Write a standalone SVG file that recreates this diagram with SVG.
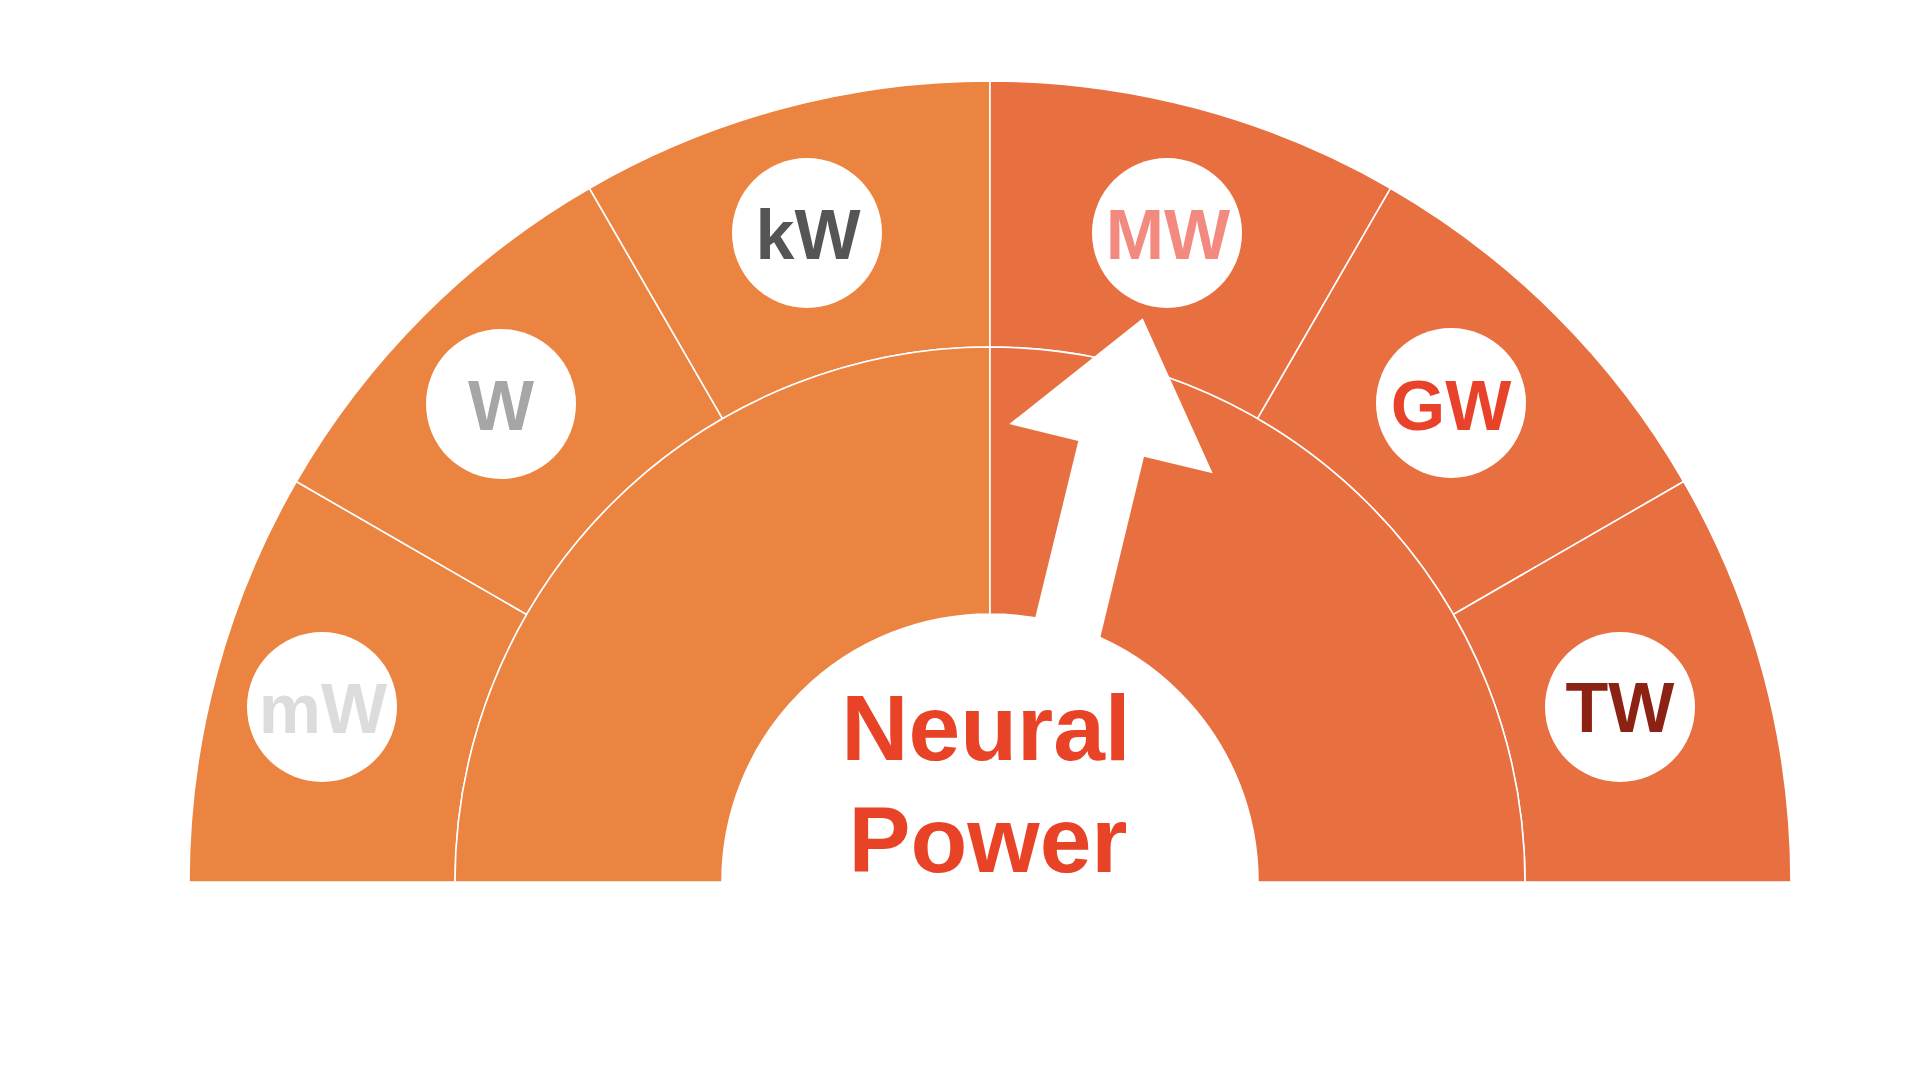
<svg xmlns="http://www.w3.org/2000/svg" width="1919" height="1080" viewBox="0 0 1919 1080">
<style>
.seg{stroke:#FFFFFF;stroke-width:1.6;stroke-linejoin:round}
.lo{fill:#EC8441}
.ro{fill:#E86F40}
.badge{fill:#FFFFFF}
.unit{font-family:"Liberation Sans",Arial,sans-serif;font-weight:bold;font-size:70px;text-anchor:middle}
.title{font-family:"Liberation Sans",Arial,sans-serif;font-weight:bold;font-size:93px;text-anchor:middle;fill:#E84327}
</style>
<rect width="1919" height="1080" fill="#FFFFFF"/>
<g id="gauge">
<path class="seg lo" d="M189 882 A801 801 0 0 1 296.3 481.5 L526.7 614.5 A535 535 0 0 0 455 882 Z"/>
<path class="seg lo" d="M296.3 481.5 A801 801 0 0 1 589.5 188.3 L722.5 418.7 A535 535 0 0 0 526.7 614.5 Z"/>
<path class="seg lo" d="M589.5 188.3 A801 801 0 0 1 990 81 L990 347 A535 535 0 0 0 722.5 418.7 Z"/>
<path class="seg ro" d="M990 81 A801 801 0 0 1 1390.5 188.3 L1257.5 418.7 A535 535 0 0 0 990 347 Z"/>
<path class="seg ro" d="M1390.5 188.3 A801 801 0 0 1 1683.7 481.5 L1453.3 614.5 A535 535 0 0 0 1257.5 418.7 Z"/>
<path class="seg ro" d="M1683.7 481.5 A801 801 0 0 1 1791 882 L1525 882 A535 535 0 0 0 1453.3 614.5 Z"/>
<path class="seg lo" d="M455 882 A535 535 0 0 1 990 347 L990 614 A268 268 0 0 0 722 882 Z"/>
<path class="seg ro" d="M990 347 A535 535 0 0 1 1525 882 L1258 882 A268 268 0 0 0 990 614 Z"/>
</g>
<g id="needle">
<polygon fill="#FFFFFF" points="1142.7,318.3 1212.7,473.3 1144,456.7 1090,680 1020,680 1078.3,441 1009.3,424"/>
</g>
<g id="node-mW"><circle class="badge" cx="322" cy="707" r="75"/><text class="unit" x="323" y="733" fill="#DCDCDC">mW</text></g>
<g id="node-W"><circle class="badge" cx="501" cy="404" r="75"/><text class="unit" x="501" y="430" fill="#A6A6A6">W</text></g>
<g id="node-kW"><circle class="badge" cx="807" cy="233" r="75"/><text class="unit" x="808" y="259" fill="#555555">kW</text></g>
<g id="node-MW"><circle class="badge" cx="1167" cy="233" r="75"/><text class="unit" x="1168" y="259" fill="#F28A80">MW</text></g>
<g id="node-GW"><circle class="badge" cx="1451" cy="403" r="75"/><text class="unit" x="1451" y="430" fill="#E8432A">GW</text></g>
<g id="node-TW"><circle class="badge" cx="1620" cy="707" r="75"/><text class="unit" x="1620" y="732" fill="#8B2214">TW</text></g>
<g id="label">
<text class="title" x="986" y="760">Neural</text>
<text class="title" x="988" y="872">Power</text>
</g>
</svg>
